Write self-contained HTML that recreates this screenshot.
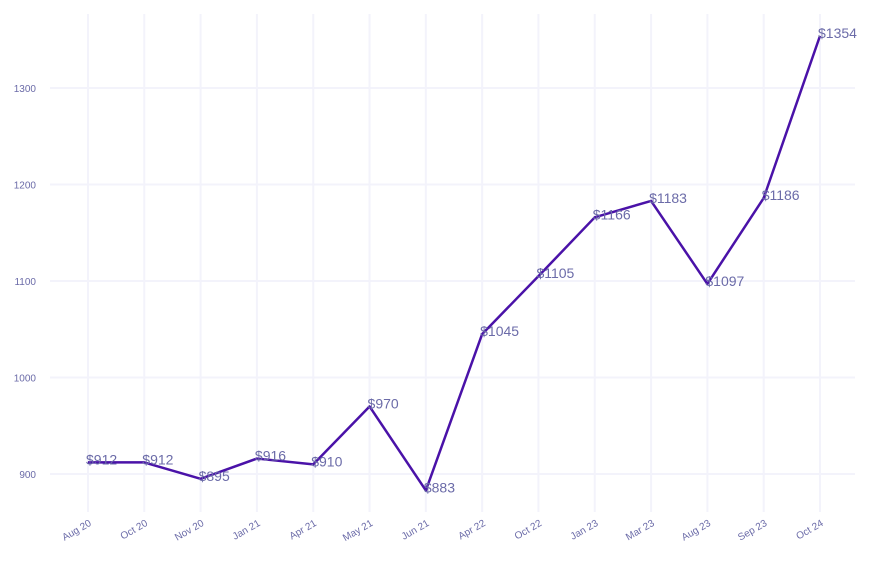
<!DOCTYPE html>
<html><head><meta charset="utf-8"><style>
body{margin:0;background:#fff}
svg text{font-family:"Liberation Sans",sans-serif}
</style></head><body>
<svg id="chart" width="873" height="565"></svg>
<script>
const categories=["Aug 20","Oct 20","Nov 20","Jan 21","Apr 21","May 21","Jun 21","Apr 22","Oct 22","Jan 23","Mar 23","Aug 23","Sep 23","Oct 24"];
const values=[912,912,895,916,910,970,883,1045,1105,1166,1183,1097,1186,1354];
const yTicks=[900,1000,1100,1200,1300];
const NS="http://www.w3.org/2000/svg";
const svg=document.getElementById('chart');
const x0=88,x1=820,y900=474,pxPer=0.965;
function xs(i){return x0+(x1-x0)*i/(categories.length-1);}
function ys(v){return y900-(v-900)*pxPer;}
function mk(t,a){const e=document.createElementNS(NS,t);for(const k in a)e.setAttribute(k,a[k]);svg.appendChild(e);return e;}
yTicks.forEach(v=>{
 const l=mk('line',{x1:50,x2:855,y1:ys(v),y2:ys(v),stroke:'#f3f3fb','stroke-width':2});
 
 
 const t=mk('text',{x:36,y:ys(v)+4,'text-anchor':'end','font-size':10,fill:'#6b6ba8'});
 t.textContent=v;
 
 
});
categories.forEach((c,i)=>{
 const l=mk('line',{x1:xs(i),x2:xs(i),y1:14,y2:512,stroke:'#f3f3fb','stroke-width':2});
 
 
 const t=mk('text',{x:xs(i)+4,y:525,'text-anchor':'end','font-size':10,fill:'#6b6ba8',transform:`rotate(-30 ${xs(i)+4} 525)`});
 t.textContent=c;
 
 
});
const p=mk('polyline',{points:values.map((v,i)=>xs(i)+','+ys(v)).join(' '),fill:'none',stroke:'#4a12a8','stroke-width':2.5,'stroke-linejoin':'round'});


values.forEach((v,i)=>{
 const t=mk('text',{x:xs(i)-2,y:ys(v)+2,'font-size':14,fill:'#6b6ba8'});
 t.textContent='$'+v;
 
 
});
</script>
</body></html>
